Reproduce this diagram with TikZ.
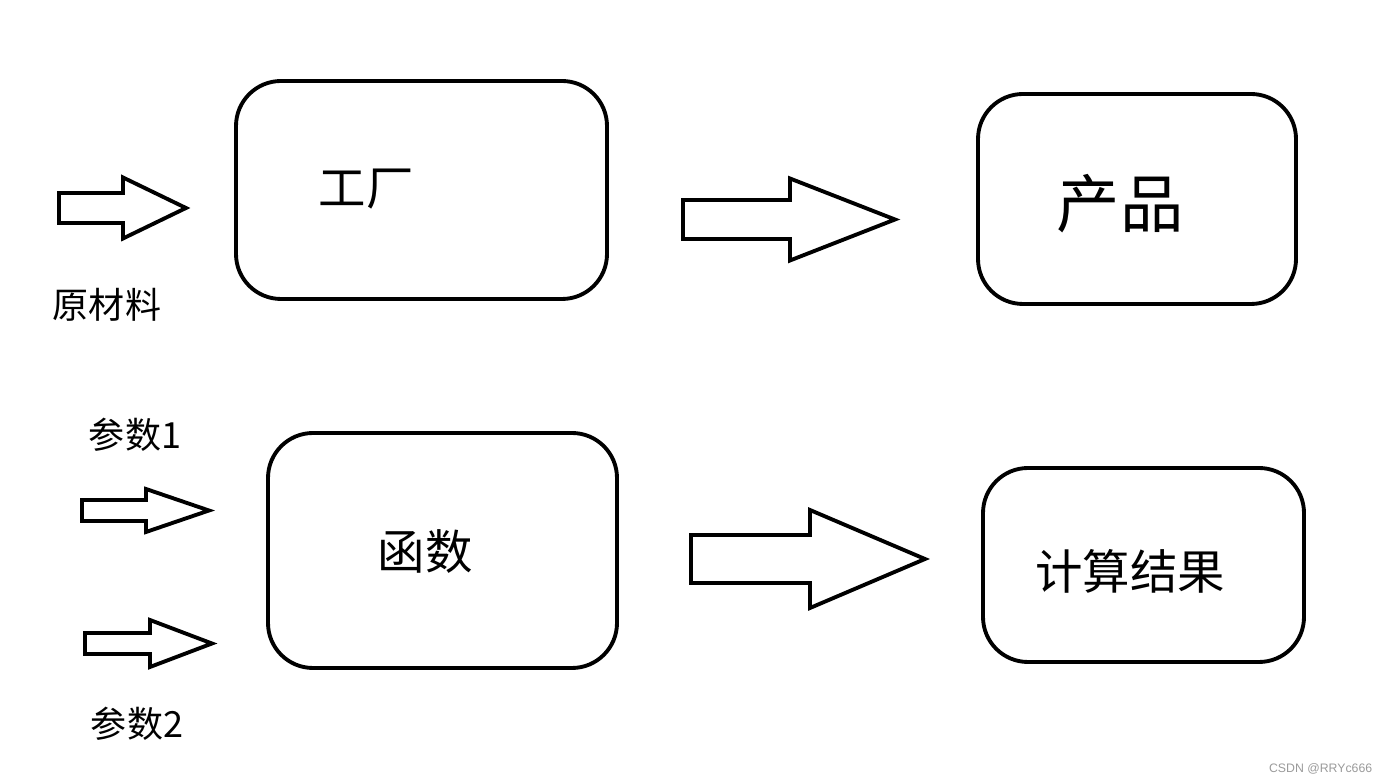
\documentclass[tikz,border=0pt]{standalone}
\usepackage{fontspec}
\newfontfamily\cjk{Noto Sans CJK SC}
\setsansfont{Liberation Sans}
\definecolor{mark}{HTML}{9A9A9A}
\tikzset{
  box/.style={rounded corners=0.9cm},
  bigtext/.style={font=\cjk\fontsize{27}{32}\selectfont},
  hugetext/.style={font=\cjk\fontsize{36}{42}\selectfont},
  smalltext/.style={font=\cjk\fontsize{20.5}{24}\selectfont}
}
\begin{document}
\begin{tikzpicture}[line width=2.2pt]
\useasboundingbox (0,0) rectangle (27.74,15.68);

% top row
\draw (1.18,11.22) -- (2.46,11.22) -- (2.46,10.91) -- (3.72,11.52) -- (2.46,12.13) -- (2.46,11.82) -- (1.18,11.82) -- cycle;
\node [smalltext] (raw) at (2.14,9.58) {原材料};

\draw [box] (4.72,9.70) rectangle (12.14,14.06);
\node [bigtext] (factory) at (7.32,11.9) {工厂};

\draw (13.66,10.90) -- (15.80,10.90) -- (15.80,10.47) -- (17.90,11.29) -- (15.80,12.11) -- (15.80,11.68) -- (13.66,11.68) -- cycle;

\draw [box] (19.56,9.60) rectangle (25.92,13.80);
\node [hugetext] (product) at (22.4,11.6) {产品};

% bottom row
\node [smalltext] (param1) at (2.7,6.98) {参数1};
\draw (1.64,5.26) -- (2.92,5.26) -- (2.92,5.04) -- (4.18,5.47) -- (2.92,5.90) -- (2.92,5.68) -- (1.64,5.68) -- cycle;

\draw (1.70,2.60) -- (3.00,2.60) -- (3.00,2.34) -- (4.24,2.81) -- (3.00,3.28) -- (3.00,3.02) -- (1.70,3.02) -- cycle;
\node [smalltext] (param2) at (2.74,1.2) {参数2};

\draw [box] (5.36,2.32) rectangle (12.34,7.02);
\node [bigtext] (func) at (8.5,4.64) {函数};

\draw (13.82,4.02) -- (16.20,4.02) -- (16.20,3.52) -- (18.50,4.50) -- (16.20,5.48) -- (16.20,4.98) -- (13.82,4.98) -- cycle;

\draw [box] (19.66,2.44) rectangle (26.08,6.32);
\node [bigtext] (result) at (22.6,4.26) {计算结果};

\node [anchor=east, text=mark, font=\sffamily\fontsize{7}{8}\selectfont] (watermark) at (27.6,0.3) {CSDN @RRYc666};

\end{tikzpicture}
\end{document}
